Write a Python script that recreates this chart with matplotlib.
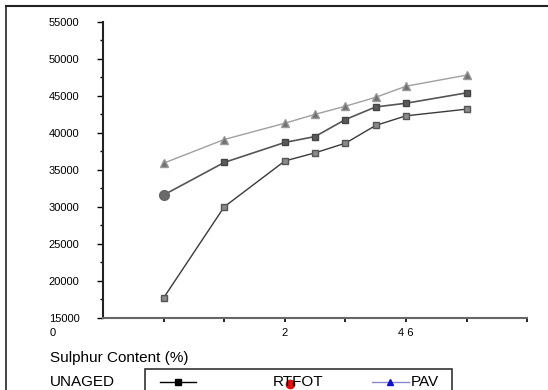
import matplotlib
matplotlib.use("Agg")
import matplotlib.pyplot as plt
from matplotlib.lines import Line2D
from matplotlib.patches import Rectangle

plt.rcParams['font.family'] = ['Liberation Sans', 'DejaVu Sans']

# positions along the x axis (axis runs 0..7)
sulphur = [1, 2, 3, 3.5, 4, 4.5, 5, 6]
unaged = [17700, 30000, 36200, 37300, 38600, 41000, 42300, 43200]
rtfot = [31600, 36000, 38700, 39500, 41800, 43500, 44000, 45400]
pav = [35900, 39100, 41300, 42500, 43600, 44800, 46300, 47800]

yticks = [15000, 20000, 25000, 30000, 35000, 40000, 45000, 50000, 55000]
xticks = [1, 2, 3, 4, 5, 6, 7]
xtick_labels = ['', '', '2', '', '4 6', '', '']

fig = plt.figure(figsize=(5.48, 3.9), dpi=100)
ax = fig.add_axes([0.188, 0.185, 0.774, 0.759])

ax.plot(sulphur, unaged, color='#3a3a3a', lw=1.0, marker='s', ms=5,
        mfc='#8a8a8a', mec='#555555')
ax.plot(sulphur, rtfot, color='#555555', lw=1.2, marker='s', ms=5,
        mfc='#5a5a5a', mec='#444444', markevery=slice(1, None))
ax.plot(sulphur[:1], rtfot[:1], ls='none', marker='o', ms=7,
        mfc='#6a6a6a', mec='#666666')
ax.plot(sulphur, pav, color='#a0a0a0', lw=1.0, marker='^', ms=6,
        mfc='#707070', mec='#999999')

ax.set_xlim(0, 7)
ax.set_ylim(15000, 55000)
ax.set_xticks(xticks)
ax.set_xticklabels(xtick_labels, fontsize=8)
ax.set_yticks(yticks)
ax.set_yticklabels([str(v) for v in yticks], fontsize=8)
ax.set_yticks([17500 + 5000 * i for i in range(8)], minor=True)
ax.tick_params(axis='y', which='major', length=4, width=1, pad=13)
ax.tick_params(axis='y', which='minor', length=2, width=1)
ax.tick_params(axis='x', which='major', length=3, width=1.2, pad=4)

for s in ['top', 'right']:
    ax.spines[s].set_visible(False)
ax.spines['left'].set_linewidth(1.5)
ax.spines['bottom'].set_linewidth(1.5)
ax.spines['left'].set_color('#222222')
ax.spines['bottom'].set_color('#666666')

fig.text(50 / 548, 1 - 333 / 390, '0', fontsize=8, va='center')
fig.text(50 / 548, 1 - 358 / 390, 'Sulphur Content (%)', fontsize=11, va='center')
fig.text(50 / 548, 1 - 382 / 390, 'UNAGED', fontsize=11, va='center')

# outer frame
fig.add_artist(Line2D([6 / 548, 1], [1 - 6 / 390] * 2, color='#222222', lw=1.5,
                      transform=fig.transFigure))
fig.add_artist(Line2D([6 / 548] * 2, [0, 1 - 6 / 390], color='#222222', lw=1.2,
                      transform=fig.transFigure))

# legend box
fig.add_artist(Rectangle((145 / 548, -0.05), 307 / 548, 0.05 + 1 - 369 / 390,
                         fill=False, ec='#333333', lw=1.2,
                         transform=fig.transFigure))
ly = 1 - 382 / 390
fig.add_artist(Line2D([160 / 548, 178 / 548, 196 / 548], [ly, ly, ly],
                      color='black', lw=1, marker='s', ms=5, markevery=[1],
                      transform=fig.transFigure))
fig.text(273 / 548, ly, 'RTFOT', fontsize=11, va='center')
fig.add_artist(Line2D([290 / 548], [ly - 0.004], color='#dd1111', ls='none',
                      marker='o', ms=6, transform=fig.transFigure))
fig.add_artist(Line2D([372 / 548, 390 / 548, 409 / 548], [ly, ly, ly],
                      color='#8888cc', lw=1, marker='^', ms=5, mfc='#1111cc',
                      mec='#1111cc', markevery=[1], transform=fig.transFigure))
fig.text(411 / 548, ly, 'PAV', fontsize=11, va='center')

fig.savefig('out.png', dpi=100)
